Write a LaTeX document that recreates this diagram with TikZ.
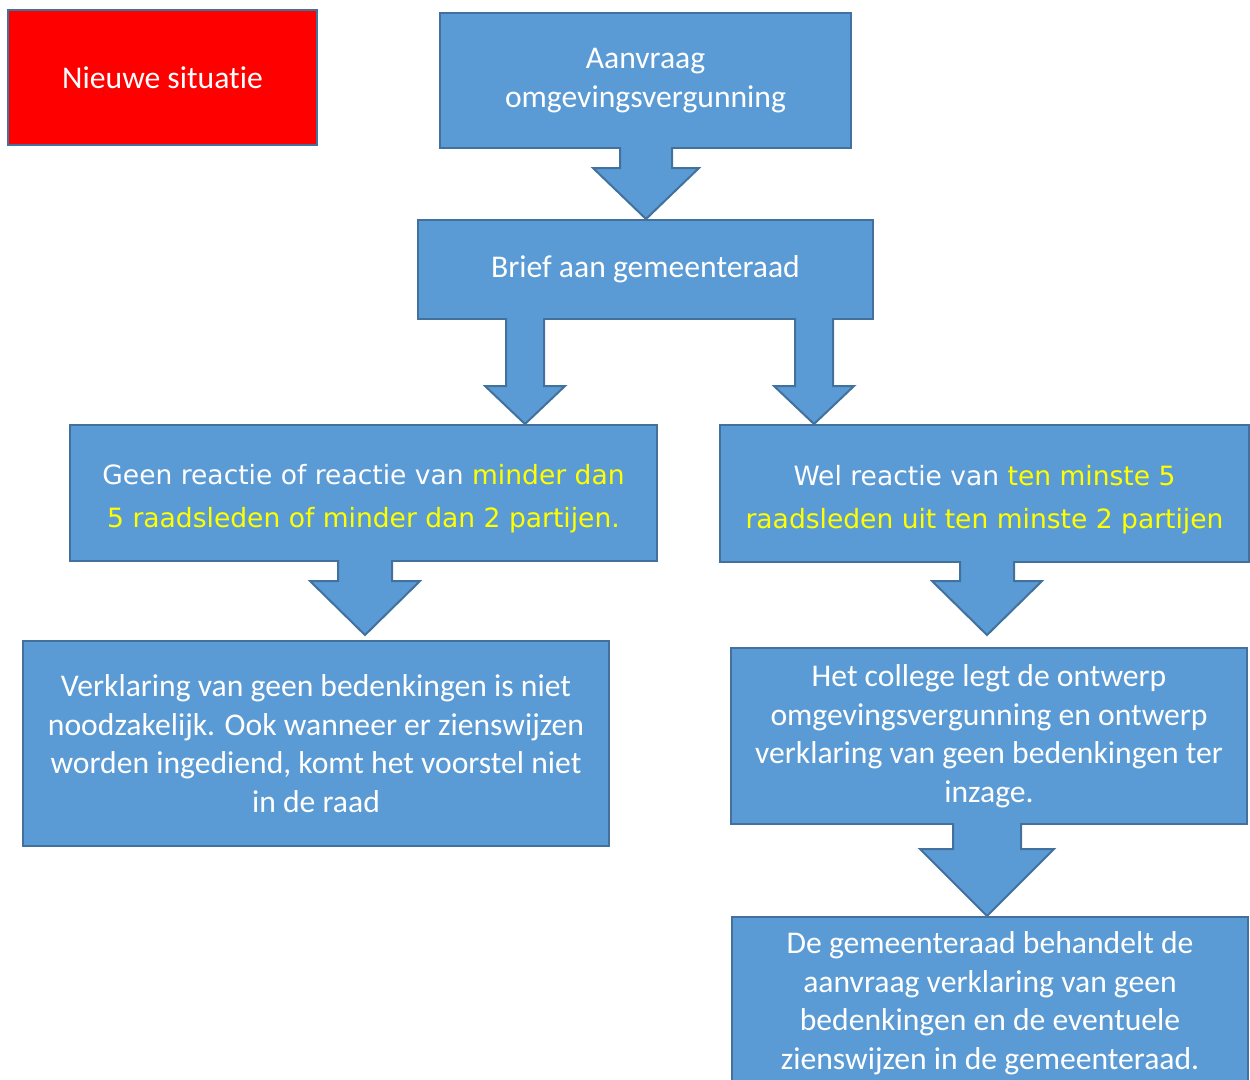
\documentclass[tikz,border=0pt]{standalone}
\usepackage{fontspec}
\setmainfont[Ligatures={NoCommon}]{Carlito}
\newfontfamily\verdana{DejaVu Sans}
\usetikzlibrary{calc}
\definecolor{boxblue}{HTML}{5B9BD5}
\definecolor{boxedge}{HTML}{41719C}
\definecolor{hilite}{HTML}{FFFF00}
\tikzset{
	blok/.style={draw=boxedge, fill=boxblue, line width=0.04cm, text=white, align=center, inner sep=0pt, font=\fontsize{18}{21.9}\selectfont},
	vblok/.style={blok, font=\verdana\fontsize{15.1}{24.4}\selectfont},
	pijl/.style={draw=boxedge, fill=boxblue, line width=0.04cm, line join=miter},
}
% extra room above the first line
\newcommand{\hoog}{\rule{0pt}{18pt}}
% block arrow from node to node: (x : shaft half : head half : head length : gap)
\def\blokpijl[#1](#2)(#3)(#4:#5:#6:#7:#8){\path[#1] let \p1=(#2.south), \p2=(#3.north) in (#4-#5,\y1+0.04cm) -- (#4-#5,\y2+#7+#8) -- (#4-#6,\y2+#7+#8) -- (#4,\y2+#8) -- (#4+#6,\y2+#7+#8) -- (#4+#5,\y2+#7+#8) -- (#4+#5,\y1+0.04cm);}

\begin{document}
\begin{tikzpicture}
	%%%%% START %%%%%
	\clip (0,0) rectangle (25,-21.58);
	\useasboundingbox (0,0) rectangle (25,-21.58);
	
	\node[blok, fill=red, minimum width=6.18cm, minimum height=2.70cm] (situatie) at (3.25,-1.55) {Nieuwe situatie};
	
	\node[blok, minimum width=8.22cm, minimum height=2.70cm] (aanvraag) at (12.91,-1.61) {Aanvraag\\omgevingsvergunning};
	\node[blok, minimum width=9.10cm, minimum height=1.98cm] (brief) at (12.91,-5.39) {Brief aan gemeenteraad};
	
	\node[vblok, minimum width=11.74cm, minimum height=2.72cm] (geen) at (7.27,-9.86) {\hoog Geen reactie of reactie van {\color{hilite}minder dan}\\{\color{hilite}5 raadsleden of minder dan 2 partijen.}};
	\node[vblok, minimum width=10.58cm, minimum height=2.74cm] (wel) at (19.69,-9.87) {\hoog Wel reactie van {\color{hilite}ten minste 5}\\{\color{hilite}raadsleden uit ten minste 2 partijen}};
	
	\node[blok, minimum width=11.72cm, minimum height=4.10cm] (verklaring) at (6.32,-14.87) {Verklaring van geen bedenkingen is niet\\noodzakelijk. Ook wanneer er zienswijzen\\worden ingediend, komt het voorstel niet\\in de raad};
	\node[blok, minimum width=10.32cm, minimum height=3.52cm] (college) at (19.78,-14.72) {Het college legt de ontwerp\\omgevingsvergunning en ontwerp\\verklaring van geen bedenkingen ter\\inzage.};
	\node[blok, minimum width=10.32cm, minimum height=3.44cm] (raad) at (19.80,-20.06) {De gemeenteraad behandelt de\\aanvraag verklaring van geen\\bedenkingen en de eventuele\\zienswijzen in de gemeenteraad.};
	
	% arrows
	\blokpijl[pijl](aanvraag)(brief)(12.92cm:0.52cm:1.06cm:1.02cm:0cm)
	\blokpijl[pijl](brief)(geen)(10.50cm:0.38cm:0.80cm:0.76cm:0cm)
	\blokpijl[pijl](brief)(wel)(16.28cm:0.38cm:0.80cm:0.76cm:0cm)
	\blokpijl[pijl](geen)(verklaring)(7.30cm:0.54cm:1.10cm:1.08cm:0.10cm)
	\blokpijl[pijl](wel)(college)(19.74cm:0.54cm:1.10cm:1.08cm:0.24cm)
	\blokpijl[pijl](college)(raad)(19.74cm:0.68cm:1.34cm:1.34cm:0cm)
	
	%%%%% END %%%%%
\end{tikzpicture}
\end{document}
